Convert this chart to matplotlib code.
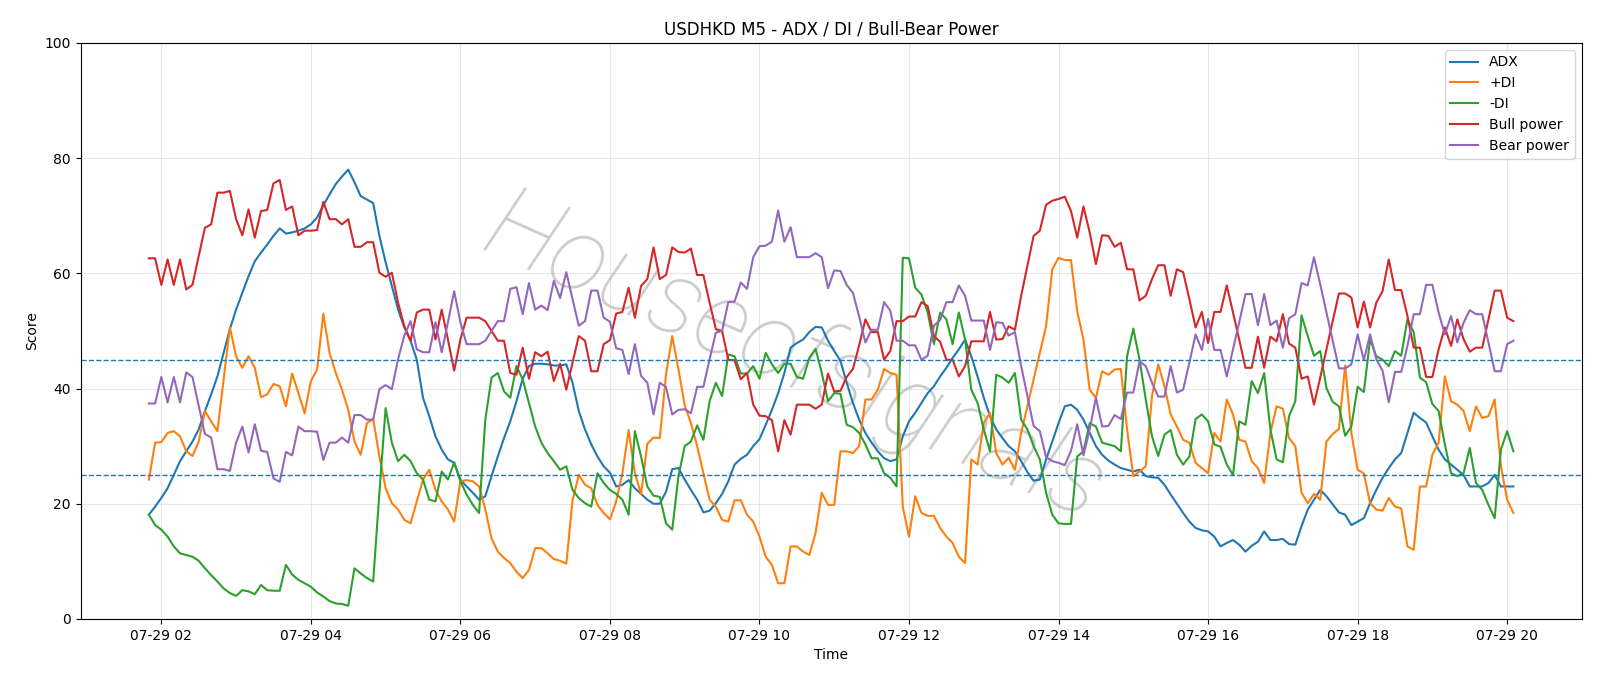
import matplotlib
matplotlib.use("Agg")
import matplotlib.pyplot as plt
import matplotlib.dates as mdates
import pandas as pd

start_time = "2025-07-29 01:50"
n_points = 220

adx = [18.1, 19.5, 21.0, 22.7, 25.0, 27.4, 29.1, 30.8, 32.9, 36.1,
       39.0, 42.1, 46.2, 50.3, 53.7, 56.6, 59.5, 62.1, 63.6, 65.0,
       66.5, 67.8, 66.9, 67.1, 67.4, 67.8, 68.5, 69.7, 71.8, 73.7,
       75.5, 76.8, 78.0, 75.8, 73.4, 72.8, 72.2, 66.5, 61.9, 57.8,
       53.7, 50.6, 48.3, 45.0, 38.4, 35.2, 31.7, 29.4, 27.7, 27.1,
       24.2, 23.0, 21.9, 20.7, 21.3, 24.8, 28.2, 31.4, 34.3, 37.8,
       41.7, 43.9, 44.3, 44.3, 44.2, 44.0, 44.0, 44.2, 41.0, 36.1,
       32.9, 30.3, 28.2, 26.5, 25.4, 23.0, 23.3, 24.1, 22.7, 21.7,
       20.7, 20.0, 20.0, 22.1, 26.0, 26.2, 24.2, 22.4, 20.7, 18.5,
       18.8, 20.1, 21.7, 23.9, 26.8, 27.8, 28.5, 30.0, 31.2, 33.7,
       36.3, 39.2, 42.7, 47.1, 47.9, 48.5, 49.8, 50.7, 50.6, 48.3,
       46.5, 44.8, 41.0, 37.5, 34.6, 32.3, 30.6, 29.1, 27.9, 27.4,
       27.7, 31.7, 34.3, 35.8, 37.5, 39.2, 40.4, 42.1, 43.6, 45.3,
       46.8, 48.5, 45.6, 42.1, 38.4, 35.2, 32.9, 31.4, 30.0, 29.1,
       27.4, 25.5, 24.0, 24.2, 27.7, 30.8, 34.0, 36.9, 37.2, 36.3,
       34.6, 32.3, 30.0, 28.5, 27.5, 26.8, 26.2, 25.9, 25.6, 25.9,
       24.8, 24.6, 24.5, 23.3, 21.6, 20.0, 18.4, 16.9, 15.8, 15.4,
       15.2, 14.3, 12.6, 13.2, 13.7, 12.9, 11.7, 12.7, 13.4, 15.2,
       13.7, 13.7, 13.9, 13.0, 12.9, 16.1, 19.0, 20.7, 22.4, 21.3,
       19.9, 18.5, 18.1, 16.3, 16.9, 17.5, 20.1, 22.4, 24.5, 26.2,
       27.7, 28.8, 32.3, 35.8, 34.9, 34.1, 31.7, 29.4, 27.7, 26.8,
       25.9, 25.0, 23.0, 23.0, 23.0, 23.6, 25.0, 23.0, 23.0, 23.0]

plus_di = [24.2, 30.6, 30.7, 32.3, 32.6, 31.7, 29.1, 28.3, 30.8, 36.1,
           34.3, 32.6, 41.6, 50.6, 45.6, 43.6, 45.6, 43.6, 38.5, 39.0,
           40.8, 40.4, 36.9, 42.6, 39.2, 35.7, 41.3, 43.3, 53.0, 46.2,
           42.7, 39.8, 36.3, 30.8, 28.5, 34.0, 34.7, 28.2, 22.7, 20.1,
           19.0, 17.2, 16.6, 20.4, 24.2, 25.9, 22.4, 20.4, 19.0, 16.9,
           23.9, 24.1, 23.9, 23.0, 19.0, 14.0, 11.7, 10.6, 9.7, 8.2,
           7.1, 8.5, 12.3, 12.3, 11.4, 10.4, 10.1, 9.6, 20.6, 25.0,
           23.3, 22.7, 19.8, 18.4, 17.3, 20.4, 25.3, 32.8, 25.3, 21.7,
           30.4, 31.5, 31.4, 42.4, 49.1, 43.3, 37.1, 34.0, 30.0, 25.3,
           20.7, 19.5, 17.2, 16.9, 20.6, 20.6, 18.1, 16.9, 14.3, 10.8,
           9.4, 6.2, 6.2, 12.6, 12.6, 11.7, 11.1, 14.9, 21.9, 19.8,
           19.8, 29.1, 29.1, 28.8, 30.0, 38.1, 38.1, 39.8, 43.4, 42.7,
           42.4, 19.5, 14.3, 21.3, 18.4, 17.9, 17.9, 15.8, 14.3, 13.2,
           10.8, 9.7, 27.7, 26.8, 34.0, 35.8, 28.8, 26.8, 28.0, 25.9,
           32.3, 36.9, 41.6, 46.2, 50.8, 60.7, 62.7, 62.3, 62.3, 53.4,
           48.5, 39.8, 38.4, 43.0, 42.4, 43.3, 43.4, 32.9, 24.8, 25.6,
           26.5, 38.7, 44.2, 40.4, 35.5, 33.4, 31.1, 30.6, 27.1, 26.2,
           25.3, 32.3, 30.8, 38.1, 35.5, 31.1, 30.8, 27.4, 26.2, 23.6,
           32.3, 36.9, 36.5, 31.4, 30.0, 21.9, 20.1, 21.7, 20.7, 30.8,
           32.1, 33.0, 44.0, 32.3, 25.9, 25.3, 20.1, 19.0, 18.8, 21.0,
           19.5, 19.2, 12.6, 12.0, 23.0, 23.0, 28.5, 30.6, 42.1, 37.8,
           37.2, 36.1, 32.6, 36.9, 34.9, 35.2, 38.1, 26.5, 20.7, 18.4]

minus_di = [18.1, 16.3, 15.5, 14.3, 12.6, 11.4, 11.1, 10.8, 10.1, 8.8,
            7.6, 6.5, 5.3, 4.5, 4.0, 5.0, 4.8, 4.3, 5.9, 5.0,
            4.9, 4.9, 9.4, 7.7, 6.8, 6.2, 5.6, 4.6, 3.9, 3.1,
            2.7, 2.6, 2.3, 8.8, 7.9, 7.1, 6.5, 21.9, 36.6, 30.6,
            27.4, 28.5, 27.4, 25.3, 24.2, 20.7, 20.4, 25.6, 24.2, 27.2,
            23.9, 21.6, 19.8, 18.4, 34.6, 41.9, 42.7, 39.5, 38.4, 43.9,
            41.6, 37.5, 33.4, 30.6, 28.8, 27.4, 25.9, 26.5, 22.4, 21.0,
            20.1, 19.5, 25.3, 23.6, 22.4, 21.7, 20.7, 18.1, 32.6, 28.2,
            23.0, 21.4, 21.2, 16.6, 15.5, 24.8, 30.0, 30.8, 33.6, 31.1,
            37.8, 41.0, 38.7, 45.9, 45.6, 42.6, 42.6, 43.9, 41.7, 46.2,
            44.2, 42.7, 44.3, 44.3, 42.0, 41.7, 45.3, 46.9, 42.7, 37.8,
            39.2, 39.1, 33.7, 33.3, 32.3, 30.3, 27.9, 27.9, 25.3, 24.5,
            23.0, 62.7, 62.6, 57.5, 56.3, 53.2, 47.7, 53.2, 52.0, 47.7,
            53.2, 48.5, 39.8, 37.5, 32.9, 29.1, 42.4, 41.9, 41.0, 42.7,
            34.6, 32.9, 30.0, 27.7, 21.9, 18.1, 16.6, 16.5, 16.5, 28.2,
            29.1, 34.0, 33.4, 30.6, 30.3, 30.0, 29.1, 45.6, 50.4, 45.0,
            38.1, 31.7, 28.3, 32.0, 32.8, 28.5, 26.8, 28.2, 34.7, 35.5,
            34.3, 30.3, 29.9, 26.8, 25.0, 34.3, 33.7, 41.3, 39.2, 42.7,
            32.9, 27.7, 27.2, 35.2, 37.8, 52.7, 49.1, 45.7, 46.5, 40.1,
            37.7, 36.9, 31.8, 33.4, 40.3, 39.4, 48.5, 45.6, 45.0, 43.9,
            46.5, 45.7, 52.0, 49.8, 41.9, 41.1, 37.3, 36.1, 30.3, 25.3,
            24.8, 25.3, 29.7, 23.6, 22.4, 19.8, 17.5, 29.4, 32.6, 29.1]

bull_power = [62.6, 62.6, 58.0, 62.4, 58.0, 62.4, 57.2, 58.0, 63.0, 67.9,
              68.5, 74.0, 74.0, 74.3, 69.4, 66.6, 71.1, 66.2, 70.8, 71.0,
              75.6, 76.2, 71.0, 71.6, 66.6, 67.4, 67.4, 67.5, 72.4, 69.4,
              69.4, 68.5, 69.4, 64.6, 64.6, 65.4, 65.4, 60.1, 59.4, 60.1,
              54.9, 50.8, 48.3, 53.2, 53.7, 53.7, 48.5, 53.7, 48.5, 43.1,
              48.5, 52.3, 52.3, 52.3, 51.7, 50.0, 48.3, 48.3, 42.7, 42.4,
              47.1, 41.7, 46.3, 45.6, 46.4, 41.3, 44.3, 39.8, 44.5, 49.1,
              48.3, 43.0, 43.0, 47.7, 48.4, 53.0, 53.3, 57.5, 52.3, 57.8,
              59.0, 64.5, 59.0, 59.7, 64.5, 63.7, 63.6, 64.3, 59.7, 59.7,
              54.9, 50.3, 50.0, 45.0, 44.9, 41.6, 42.7, 37.2, 35.3, 35.2,
              34.5, 29.1, 34.5, 32.0, 37.2, 37.2, 37.2, 36.5, 37.2, 42.6,
              39.5, 39.6, 42.0, 43.4, 47.5, 52.0, 49.8, 49.8, 45.0, 46.5,
              51.7, 51.7, 52.5, 52.5, 55.0, 54.3, 49.1, 48.1, 45.0, 45.0,
              42.1, 43.9, 48.2, 48.2, 48.2, 53.3, 48.5, 48.6, 50.8, 50.2,
              56.1, 61.3, 66.5, 67.4, 71.9, 72.6, 72.9, 73.3, 70.8, 66.2,
              71.6, 67.1, 61.6, 66.6, 66.5, 64.6, 65.3, 60.7, 60.7, 55.3,
              56.1, 59.0, 61.4, 61.4, 56.1, 60.7, 60.2, 55.5, 50.6, 53.3,
              47.9, 53.3, 53.3, 57.9, 53.2, 48.5, 43.6, 43.6, 49.0, 43.6,
              49.0, 48.2, 52.9, 47.8, 47.1, 41.7, 42.1, 37.2, 41.9, 46.8,
              51.7, 56.5, 56.5, 55.8, 50.6, 55.1, 50.6, 54.9, 56.9, 62.4,
              57.1, 57.1, 52.6, 47.1, 47.1, 42.0, 42.0, 46.8, 50.6, 47.4,
              52.0, 48.6, 46.4, 47.1, 47.1, 52.0, 57.0, 57.0, 52.3, 51.7]

bear_power = [37.4, 37.4, 42.0, 37.6, 42.0, 37.6, 42.8, 42.0, 37.0, 32.1,
              31.5, 26.0, 26.0, 25.7, 30.6, 33.4, 28.9, 33.8, 29.2, 29.0,
              24.4, 23.8, 29.0, 28.4, 33.4, 32.6, 32.6, 32.5, 27.6, 30.6,
              30.6, 31.5, 30.6, 35.4, 35.4, 34.6, 34.6, 39.9, 40.6, 39.9,
              45.1, 49.2, 51.7, 46.8, 46.3, 46.3, 51.5, 46.3, 51.5, 56.9,
              51.5, 47.7, 47.7, 47.7, 48.3, 50.0, 51.7, 51.7, 57.3, 57.6,
              52.9, 58.3, 53.7, 54.4, 53.6, 58.7, 55.7, 60.2, 55.5, 50.9,
              51.7, 57.0, 57.0, 52.3, 51.6, 47.0, 46.7, 42.5, 47.7, 42.2,
              41.0, 35.5, 41.0, 40.3, 35.5, 36.3, 36.4, 35.7, 40.3, 40.3,
              45.1, 49.7, 50.0, 55.0, 55.1, 58.4, 57.3, 62.8, 64.7, 64.8,
              65.5, 70.9, 65.5, 68.0, 62.8, 62.8, 62.8, 63.5, 62.8, 57.4,
              60.5, 60.4, 58.0, 56.6, 52.5, 48.0, 50.2, 50.2, 55.0, 53.5,
              48.3, 48.3, 47.5, 47.5, 45.0, 45.7, 50.9, 51.9, 55.0, 55.0,
              57.9, 56.1, 51.8, 51.8, 51.8, 46.7, 51.5, 51.4, 49.2, 49.8,
              43.9, 38.7, 33.5, 32.6, 28.1, 27.4, 27.1, 26.7, 29.2, 33.8,
              28.4, 32.9, 38.4, 33.4, 33.5, 35.4, 34.7, 39.3, 39.3, 44.7,
              43.9, 41.0, 38.6, 38.6, 43.9, 39.3, 39.8, 44.5, 49.4, 46.7,
              52.1, 46.7, 46.7, 42.1, 46.8, 51.5, 56.4, 56.4, 51.0, 56.4,
              51.0, 51.8, 47.1, 52.2, 52.9, 58.3, 57.9, 62.8, 58.1, 53.2,
              48.3, 43.5, 43.5, 44.2, 49.4, 44.9, 49.4, 45.1, 43.1, 37.6,
              42.9, 42.9, 47.4, 52.9, 52.9, 58.0, 58.0, 53.2, 49.4, 52.6,
              48.0, 51.4, 53.6, 52.9, 52.9, 48.0, 43.0, 43.0, 47.7, 48.3]

levels = [25, 45]
title = "USDHKD M5 - ADX / DI / Bull-Bear Power"
watermark = "Houseofsignals"

times = pd.date_range(start_time, periods=n_points, freq="5min")

fig = plt.figure(figsize=(16, 6.86), dpi=100)
ax = fig.add_axes([0.0504, 0.0977, 0.9381, 0.8398])

ax.plot(times, adx, label="ADX", color="#1f77b4", lw=1.5)
ax.plot(times, plus_di, label="+DI", color="#ff7f0e", lw=1.5)
ax.plot(times, minus_di, label="-DI", color="#2ca02c", lw=1.5)
ax.plot(times, bull_power, label="Bull power", color="#d62728", lw=1.5)
ax.plot(times, bear_power, label="Bear power", color="#9467bd", lw=1.5)
for lv in levels:
    ax.axhline(lv, color="#1f77b4", ls="--", lw=1.0)

ax.set_ylim(0, 100)
ax.xaxis.set_major_locator(mdates.HourLocator(byhour=range(0, 24, 2)))
ax.xaxis.set_major_formatter(mdates.DateFormatter("%m-%d %H"))
ax.grid(True, alpha=0.3)
ax.set_title(title)
ax.set_xlabel("Time")
ax.set_ylabel("Score")
ax.legend(loc="upper right")

ax.text(0.475, 0.45, watermark, transform=ax.transAxes, fontsize=74,
        family="Roboto", fontweight=100, fontstyle="italic",
        color="gray", alpha=0.4, rotation=-24, ha="center", va="center",
        zorder=0)

fig.savefig("out.png", dpi=100)
